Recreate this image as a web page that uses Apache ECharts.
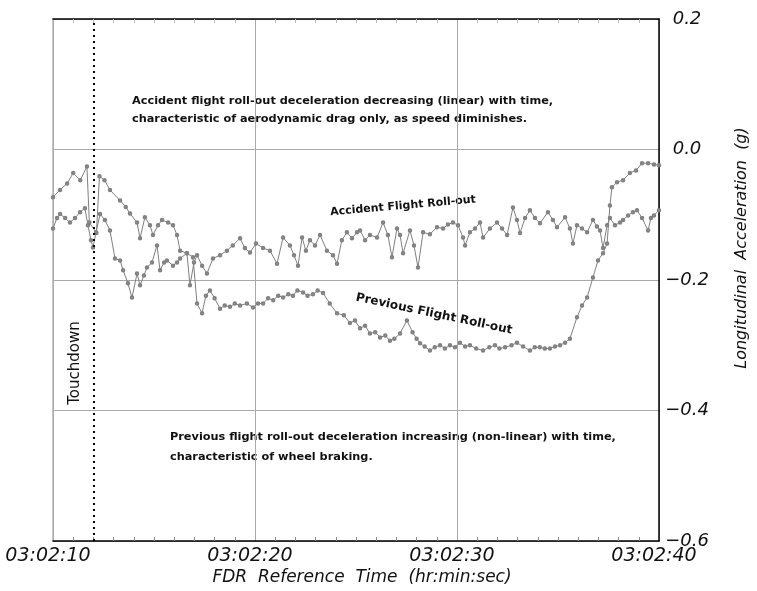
<!DOCTYPE html>
<html><head><meta charset="utf-8">
<script src="https://cdn.jsdelivr.net/npm/echarts@6/dist/echarts.min.js"></script>
<style>html,body{margin:0;padding:0;background:#fff}#c{width:757px;height:591px}</style>
</head><body><div id="c"></div>
<script>
// time in seconds after 03:02:10
var xTicks = [0, 10, 20, 30];
var xTickLabels = ['03:02:10', '03:02:20', '03:02:30', '03:02:40'];
var touchdownT = 2;

var prevTime = [0,0.35,0.7,1.0,1.35,1.68,1.8,2.15,2.3,2.55,2.82,3.32,3.6,3.81,4.16,4.31,4.55,4.8,4.95,5.2,5.4,5.7,5.94,6.14,6.29,6.63,6.93,7.13,7.38,7.57,7.77,8.0,8.27,8.5,8.76,9.0,9.26,9.6,9.9,10.15,10.4,10.65,10.9,11.15,11.39,11.65,11.88,12.1,12.38,12.6,12.87,13.1,13.37,13.7,14.06,14.4,14.7,14.95,15.2,15.45,15.69,15.95,16.19,16.45,16.68,16.9,17.18,17.52,17.8,18.0,18.17,18.4,18.66,18.9,19.16,19.4,19.65,19.9,20.15,20.4,20.64,20.95,21.29,21.6,21.88,22.1,22.38,22.7,22.97,23.27,23.61,23.85,24.1,24.35,24.6,24.85,25.1,25.35,25.59,25.94,26.19,26.44,26.73,26.98,27.23,27.43,27.57,27.67,27.92,28.22,28.56,28.86,29.16,29.46,29.75,30.0];
var prevG = [-0.073,-0.062,-0.052,-0.036,-0.047,-0.026,-0.112,-0.128,-0.041,-0.047,-0.062,-0.078,-0.088,-0.098,-0.112,-0.136,-0.104,-0.116,-0.131,-0.116,-0.108,-0.112,-0.116,-0.131,-0.155,-0.159,-0.165,-0.236,-0.251,-0.224,-0.216,-0.228,-0.244,-0.239,-0.241,-0.236,-0.239,-0.236,-0.242,-0.236,-0.236,-0.228,-0.231,-0.224,-0.227,-0.222,-0.224,-0.216,-0.219,-0.224,-0.222,-0.216,-0.220,-0.236,-0.251,-0.254,-0.266,-0.262,-0.274,-0.270,-0.282,-0.280,-0.288,-0.285,-0.293,-0.290,-0.282,-0.262,-0.280,-0.290,-0.297,-0.302,-0.308,-0.303,-0.300,-0.305,-0.300,-0.303,-0.296,-0.302,-0.300,-0.305,-0.308,-0.303,-0.300,-0.305,-0.303,-0.300,-0.296,-0.302,-0.308,-0.303,-0.303,-0.305,-0.305,-0.302,-0.300,-0.296,-0.290,-0.257,-0.239,-0.227,-0.196,-0.170,-0.159,-0.144,-0.086,-0.058,-0.050,-0.047,-0.036,-0.032,-0.021,-0.021,-0.023,-0.024];

var accTime = [0,0.2,0.35,0.6,0.84,1.09,1.34,1.58,1.73,1.88,1.98,2.13,2.33,2.57,2.82,3.07,3.32,3.47,3.71,3.91,4.16,4.31,4.5,4.65,4.9,5.15,5.3,5.5,5.64,5.94,6.14,6.29,6.63,6.78,6.98,7.13,7.38,7.62,7.92,8.27,8.61,8.9,9.26,9.5,9.75,10.05,10.4,10.74,11.09,11.39,11.73,11.93,12.13,12.33,12.52,12.72,12.97,13.22,13.56,13.86,14.06,14.3,14.55,14.8,15.05,15.2,15.45,15.69,16.04,16.34,16.58,16.78,17.03,17.18,17.33,17.67,17.87,18.07,18.32,18.66,19.01,19.31,19.55,19.8,20.05,20.3,20.4,20.64,20.89,21.14,21.29,21.63,21.98,22.23,22.48,22.77,22.97,23.12,23.37,23.61,23.86,24.11,24.5,24.75,24.95,25.35,25.59,25.74,25.94,26.19,26.44,26.73,26.93,27.08,27.23,27.43,27.57,27.82,28.07,28.22,28.47,28.71,28.91,29.16,29.46,29.6,29.75,30.0];
var accG = [-0.121,-0.105,-0.099,-0.105,-0.112,-0.105,-0.096,-0.090,-0.116,-0.139,-0.150,-0.127,-0.099,-0.108,-0.124,-0.167,-0.170,-0.185,-0.205,-0.227,-0.190,-0.208,-0.193,-0.181,-0.173,-0.147,-0.185,-0.173,-0.170,-0.178,-0.173,-0.167,-0.159,-0.208,-0.173,-0.162,-0.178,-0.190,-0.167,-0.162,-0.155,-0.147,-0.136,-0.151,-0.158,-0.144,-0.151,-0.155,-0.175,-0.135,-0.147,-0.162,-0.178,-0.135,-0.155,-0.139,-0.147,-0.131,-0.155,-0.162,-0.175,-0.139,-0.127,-0.136,-0.127,-0.124,-0.139,-0.131,-0.135,-0.112,-0.131,-0.165,-0.121,-0.131,-0.159,-0.124,-0.147,-0.181,-0.127,-0.130,-0.119,-0.121,-0.115,-0.112,-0.116,-0.135,-0.147,-0.127,-0.121,-0.112,-0.135,-0.121,-0.112,-0.121,-0.131,-0.089,-0.108,-0.128,-0.105,-0.093,-0.105,-0.113,-0.096,-0.108,-0.119,-0.104,-0.121,-0.144,-0.116,-0.121,-0.127,-0.108,-0.118,-0.124,-0.151,-0.116,-0.105,-0.116,-0.112,-0.108,-0.101,-0.096,-0.093,-0.105,-0.124,-0.105,-0.101,-0.093];

var yMin = -0.6, yMax = 0.2, yStep = 0.2;

function pairs(t, v) { return t.map(function (x, i) { return [x, v[i]]; }); }

var chart = echarts.init(document.getElementById('c'), null, {renderer: 'canvas'});
var axisFont = {fontFamily: 'DejaVu Sans', fontStyle: 'italic', fontSize: 18, color: '#111'};
var noteFont = 'bold 11.3px "DejaVu Sans", sans-serif';

var option = {
  animation: false,
  backgroundColor: '#fff',
  grid: {left: 53, right: 98, top: 19, bottom: 50},
  xAxis: [{
    type: 'value', min: 0, max: 30, interval: 10, position: 'bottom',
    axisLine: {onZero: false, lineStyle: {color: '#000', width: 1.5}},
    axisTick: {show: false, inside: true},
    minorTick: {show: true, splitNumber: 10, length: 4, lineStyle: {color: '#888'}},
    axisLabel: Object.assign({margin: 6, padding: [0, 10, 0, 0], fontSize: 19, formatter: function (v) { return xTickLabels[xTicks.indexOf(v)]; }}, {fontFamily: 'DejaVu Sans', fontStyle: 'italic', color: '#111'}),
    splitLine: {show: true, lineStyle: {color: '#a8a8a8', width: 1}}
  }, {
    type: 'value', min: 0, max: 30, interval: 10, position: 'top',
    axisLine: {onZero: false, lineStyle: {color: '#000', width: 1.5}},
    axisTick: {show: false, inside: true},
    minorTick: {show: true, splitNumber: 10, length: 4, lineStyle: {color: '#bbb'}},
    axisLabel: {show: false}, splitLine: {show: false}
  }],
  yAxis: [{
    type: 'value', min: yMin, max: yMax, interval: yStep, position: 'right',
    axisLine: {show: true, onZero: false, lineStyle: {color: '#000', width: 1.5}},
    axisTick: {show: false},
    axisLabel: Object.assign({margin: 28, align: 'center', formatter: function (v) { return v.toFixed(1).replace('-', '\u2212'); }}, axisFont),
    splitLine: {show: true, lineStyle: {color: '#a8a8a8', width: 1}}
  }, {
    type: 'value', min: yMin, max: yMax, interval: yStep, position: 'left',
    axisLine: {show: true, onZero: false, lineStyle: {color: '#b0b0b0', width: 1.5}},
    axisTick: {show: false}, axisLabel: {show: false}, splitLine: {show: false}
  }],
  series: [{
    name: 'Previous Flight Roll-out', type: 'line', xAxisIndex: 0, yAxisIndex: 0,
    data: pairs(prevTime, prevG),
    symbol: 'emptyCircle', symbolSize: 2.5, showSymbol: true,
    lineStyle: {color: '#808080', width: 1}, itemStyle: {color: '#808080', borderWidth: 1},
    z: 3
  }, {
    name: 'Accident Flight Roll-out', type: 'line', xAxisIndex: 0, yAxisIndex: 0,
    data: pairs(accTime, accG),
    symbol: 'emptyCircle', symbolSize: 2.5, showSymbol: true,
    lineStyle: {color: '#808080', width: 1}, itemStyle: {color: '#808080', borderWidth: 1},
    z: 3,
    markLine: {
      silent: true, symbol: 'none', label: {show: false},
      lineStyle: {color: '#000', type: [2, 4], width: 2},
      data: [{xAxis: touchdownT}]
    }
  }],
  graphic: [
    {type: 'text', left: 132, top: 92, style: {text: 'Accident flight roll-out deceleration decreasing (linear) with time,\ncharacteristic of aerodynamic drag only, as speed diminishes.', font: noteFont, fill: '#111', lineHeight: 18}},
    {type: 'text', left: 170, top: 427, style: {text: 'Previous flight roll-out deceleration increasing (non-linear) with time,\ncharacteristic of wheel braking.', font: noteFont, fill: '#111', lineHeight: 20}},
    {type: 'text', x: 403, y: 206, rotation: 5 * Math.PI / 180, style: {text: 'Accident Flight Roll-out', font: 'bold 11px "DejaVu Sans", sans-serif', fill: '#111', align: 'center', verticalAlign: 'middle'}},
    {type: 'text', x: 434, y: 314, rotation: -12 * Math.PI / 180, style: {text: 'Previous Flight Roll-out', font: 'bold 12px "DejaVu Sans", sans-serif', fill: '#111', align: 'center', verticalAlign: 'middle'}},
    {type: 'text', x: 75, y: 363, rotation: Math.PI / 2, style: {text: 'Touchdown', font: '15px "DejaVu Sans", sans-serif', fill: '#111', align: 'center', verticalAlign: 'middle'}},
    {type: 'text', x: 742, y: 248, rotation: Math.PI / 2, style: {text: 'Longitudinal  Acceleration  (g)', font: 'italic 16px "DejaVu Sans", sans-serif', fill: '#111', align: 'center', verticalAlign: 'middle'}},
    {type: 'text', x: 362, y: 578, style: {text: 'FDR  Reference  Time  (hr:min:sec)', font: 'italic 17px "DejaVu Sans", sans-serif', fill: '#111', align: 'center', verticalAlign: 'middle'}}
  ]
};
chart.setOption(option);
</script></body></html>
